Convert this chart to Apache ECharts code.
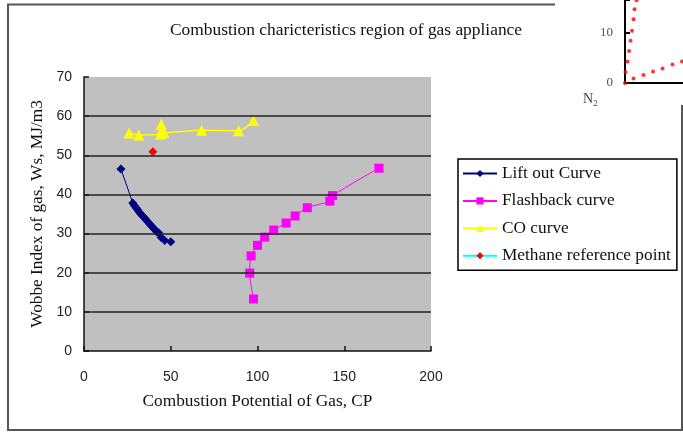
<!DOCTYPE html>
<html>
<head>
<meta charset="utf-8">
<script src="https://cdn.jsdelivr.net/npm/echarts@6/dist/echarts.min.js"></script>
<style>
html,body{margin:0;padding:0;background:#fff}
#main{width:683px;height:432px}
</style>
</head>
<body>
<div id="main"></div>
<script>
// values: [CP, Ws]
var liftOut = [[21.3,46.5],[28.1,37.8],[29,37.2],[30,36.6],[31,36],[32,35.4],[33,34.9],[34,34.4],[35,33.9],[36,33.4],[37,32.9],[38,32.4],[39,31.9],[40,31.4],[41,30.9],[42,30.4],[43,30.2],[44.5,29],[46.5,28.2],[50,27.9]];
var flashback = [[97.7,13.3],[95.5,19.9],[96.3,24.3],[100,27.0],[104.1,29.1],[109.3,30.9],[116.5,32.7],[121.7,34.5],[128.7,36.6],[141.7,38.3],[143.2,39.7],[170,46.7]];
var coCurve = [[26,55.7],[31.6,55.2],[44,55.4],[44.5,57.9],[45,56.6],[46,55.8],[67.8,56.4],[89.1,56.3],[97.7,58.9]];
var methane = [[39.7,50.9]];
var gridValues = [10,20,30,40,50,60];
var seriesNames = ['Lift out Curve','Flashback curve','CO curve','Methane reference point'];

// fragment of the neighbouring figure (top right)
var nitroA = [[0,0],[0.1,2.2],[0.5,4.3],[0.8,6.4],[1.1,8.4],[1.4,10.4],[1.7,12.7],[1.9,14.7],[2.3,16.5]];
var nitroB = [[1.7,0.9],[3.7,1.6],[5.6,2.3],[7.5,2.9],[9.5,3.7],[11.4,4.3]];

var serif = 'Liberation Serif, Times New Roman, serif';
var sans = 'Liberation Sans, Arial, sans-serif';

var myChart = echarts.init(document.getElementById('main'), null, {renderer:'canvas'});

var option = {
    backgroundColor: '#fff',
    animation: false,
    title: {
        text: 'Combustion charicteristics region of gas appliance',
        left: 346,
        top: 22,
        textAlign: 'center',
        padding: 0,
        textStyle: {fontFamily: serif, fontSize: 17.4, fontWeight: 'normal', color: '#111'}
    },
    legend: {
        data: seriesNames,
        orient: 'vertical',
        left: 458,
        top: 159,
        padding: [6, 6, 6, 4],
        itemGap: 10.4,
        itemWidth: 34,
        itemHeight: 9,
        borderColor: '#000',
        borderWidth: 1.5,
        backgroundColor: '#fff',
        textStyle: {fontFamily: serif, fontSize: 17.3, color: '#111'}
    },
    graphic: [
        { // page frame
            type: 'polyline',
            silent: true,
            shape: {points: [[555,4.5],[8,4.5],[8,430],[682,430],[682,105]]},
            style: {stroke: '#555', lineWidth: 2, fill: null}
        },
        {
            type: 'text',
            left: 583,
            top: 92,
            silent: true,
            style: {text: 'N\u2082', font: '14px ' + serif, fill: '#444'}
        }
    ],
    grid: [
        {left: 84, right: 252, top: 77, bottom: 81, show: true, backgroundColor: '#c0c0c0', borderWidth: 0},
        {left: 625, right: 0, top: 0, bottom: 349, show: false}
    ],
    xAxis: [
        {
            type: 'value', gridIndex: 0, min: 0, max: 200, interval: 50,
            name: 'Combustion Potential of Gas, CP',
            nameLocation: 'middle', nameGap: 42,
            nameTextStyle: {fontFamily: serif, fontSize: 17.3, color: '#111'},
            axisLine: {show: true, lineStyle: {color: '#111', width: 1.5}},
            axisTick: {show: true, inside: true, length: 5, lineStyle: {color: '#111', width: 1.5}},
            axisLabel: {fontFamily: sans, fontSize: 14, color: '#222', margin: 19},
            splitLine: {show: false}
        },
        {
            type: 'value', gridIndex: 1, min: 0, max: 11.6,
            axisLine: {show: true, onZero: false, lineStyle: {color: '#000', width: 2}},
            axisTick: {show: false},
            axisLabel: {show: false},
            splitLine: {show: false}
        }
    ],
    yAxis: [
        {
            type: 'value', gridIndex: 0, min: 0, max: 70, interval: 10,
            name: 'Wobbe Index of gas, Ws, MJ/m3',
            nameLocation: 'middle', nameGap: 37,
            nameTextStyle: {fontFamily: serif, fontSize: 17.3, color: '#111'},
            axisLine: {show: true, lineStyle: {color: '#111', width: 1.5}},
            axisTick: {show: true, inside: true, length: 5, lineStyle: {color: '#111', width: 1.5}},
            axisLabel: {fontFamily: sans, fontSize: 14, color: '#222', margin: 12},
            splitLine: {show: false}
        },
        {
            type: 'value', gridIndex: 1, min: 0, max: 16.54, interval: 10,
            axisLine: {show: true, onZero: false, lineStyle: {color: '#000', width: 2}},
            axisTick: {show: true, inside: true, length: 5, lineStyle: {color: '#000', width: 2}},
            axisLabel: {
                fontFamily: serif, fontSize: 13, color: '#555', margin: 12,
                formatter: function (v) { return (v === 0 || v === 10) ? String(v) : ''; }
            },
            splitLine: {show: false}
        }
    ],
    series: [
        {
            name: seriesNames[0], type: 'line', xAxisIndex: 0, yAxisIndex: 0,
            data: liftOut,
            symbol: 'diamond', symbolSize: 9,
            itemStyle: {color: '#000080'},
            lineStyle: {color: '#000080', width: 1},
            markLine: {
                silent: true, symbol: 'none',
                label: {show: false},
                lineStyle: {color: '#222', width: 1.5, type: 'solid'},
                data: gridValues.map(function (v) { return {yAxis: v}; })
            },
            z: 3
        },
        {
            name: seriesNames[1], type: 'line', xAxisIndex: 0, yAxisIndex: 0,
            data: flashback, smooth: 0.3,
            symbol: 'rect', symbolSize: 9,
            itemStyle: {color: '#ff00ff'},
            lineStyle: {color: '#ff00ff', width: 1},
            z: 3
        },
        {
            name: seriesNames[2], type: 'line', xAxisIndex: 0, yAxisIndex: 0,
            data: coCurve, smooth: 0.3,
            symbol: 'triangle', symbolSize: 11,
            itemStyle: {color: '#ffff00'},
            lineStyle: {color: '#ffff00', width: 1.5},
            z: 3
        },
        {
            name: seriesNames[3], type: 'line', xAxisIndex: 0, yAxisIndex: 0,
            data: methane,
            symbol: 'diamond', symbolSize: 9,
            itemStyle: {color: '#ff0000'},
            lineStyle: {color: '#00ffff', width: 1},
            z: 4
        },
        {
            type: 'scatter', xAxisIndex: 1, yAxisIndex: 1,
            data: nitroA, symbolSize: 4,
            itemStyle: {color: '#ff0000'}
        },
        {
            type: 'scatter', xAxisIndex: 1, yAxisIndex: 1,
            data: nitroB, symbolSize: 4,
            itemStyle: {color: '#ff0000'}
        }
    ]
};

myChart.setOption(option);
</script>
</body>
</html>
